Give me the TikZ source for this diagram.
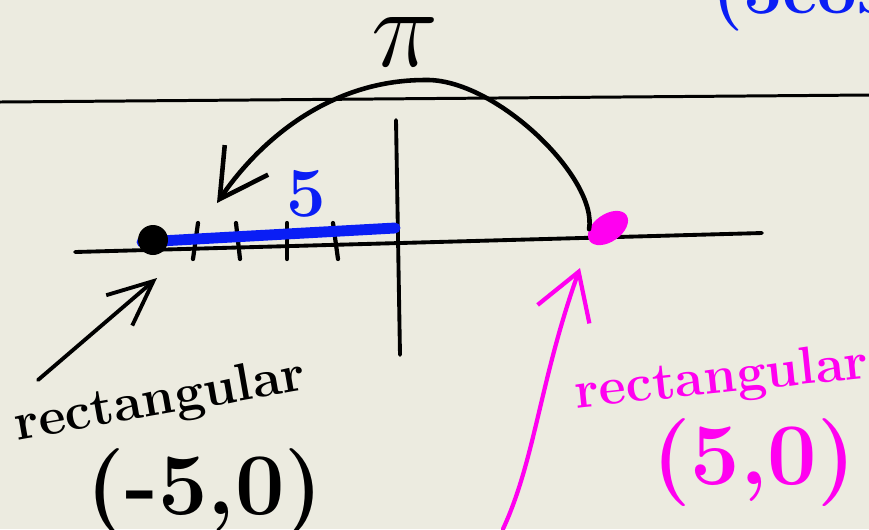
\documentclass[tikz,border=0pt]{standalone}
\usepackage{tikz}
\usetikzlibrary{arrows.meta, positioning, shapes.geometric}
\usepackage{xcolor}
\definecolor{paper}{RGB}{236,235,224}
\definecolor{penblue}{RGB}{10,30,245}
\definecolor{penpink}{RGB}{255,0,240}

\begin{document}
\begin{tikzpicture}[
      x=0.02cm, y=-0.02cm,
      ink/.style={line width=2.6pt, line cap=round, line join=round},
      note/.style={inner sep=0pt, font=\fontsize{30}{30}\selectfont\bfseries},
      pair/.style={inner sep=0pt, font=\fontsize{50}{50}\selectfont\bfseries}
    ]
    \fill[paper] (0,0) rectangle (869,529);
    \useasboundingbox (0,0) rectangle (869,529);
    \clip (0,0) rectangle (869,529);

    % guide line and axes
    \draw[line width=1.7pt] (0,102) -- (869,95);
    \draw[ink, line width=2.2pt] (75,252) -- (762,233);
    \draw[ink, line width=2.2pt] (396,120) -- (400,355);
    \foreach \x/\dx in {198/-5, 236/4, 287/0, 333/5}
      \draw[ink, line width=2.4pt] (\x,223) -- (\x+\dx,259);

    % radius along the axis
    \draw[penblue, line width=6.2pt, line cap=round] (142,242) -- (395,228);
    \node[inner sep=0pt, penblue, font=\fontsize{40}{40}\selectfont\bfseries] (five) at (306,194) {5};

    % points
    \node[circle, fill=black, minimum size=0.6cm, inner sep=0pt] (bdot) at (153,240) {};
    \node[ellipse, fill=penpink, minimum width=0.9cm, minimum height=0.55cm, inner sep=0pt, rotate=35] (pdot) at (608,228) {};

    \node[inner sep=0pt, font=\fontsize{24}{24}\selectfont, scale=2.6] (pi) at (405,42) {$\pi$};
    \node[penblue, anchor=base west, inner sep=0pt, font=\fontsize{40}{40}\selectfont\bfseries] (topnote) at (712,13) {(5cos};

    % rotation by pi
    \coordinate (ptip) at (217,203);
    \draw[ink, -{Straight Barb[length=0.95cm, width=1.05cm]}] (pdot.north west) .. controls (598,178) and (495,78) .. (425,80) .. controls (330,80) and (260,140) .. (ptip);

    % black label
    \node[note, rotate=10] (lrect) at (160,402) {rectangular};
    \node[pair, anchor=north] (lcoord) at (205,448) {(-5,0)};
    \coordinate (lstart) at (38,380);
    \coordinate (ltip) at (157,278);
    \draw[ink, line width=2.2pt, -{Straight Barb[length=0.9cm, width=0.8cm]}] (lstart) -- (ltip);

    % pink label
    \node[note, penpink, rotate=6] (rrect) at (722,380) {rectangular};
    \node[pair, penpink, anchor=north] (rcoord) at (754,418) {(5,0)};
    \coordinate (rstart) at (503,529);
    \coordinate (rtip) at (580,268);
    \draw[ink, penpink, line width=2.4pt, -{Straight Barb[length=0.9cm, width=1.1cm]}] (rstart) .. controls (535,460) and (540,380) .. (rtip);
  \end{tikzpicture}
\end{document}
